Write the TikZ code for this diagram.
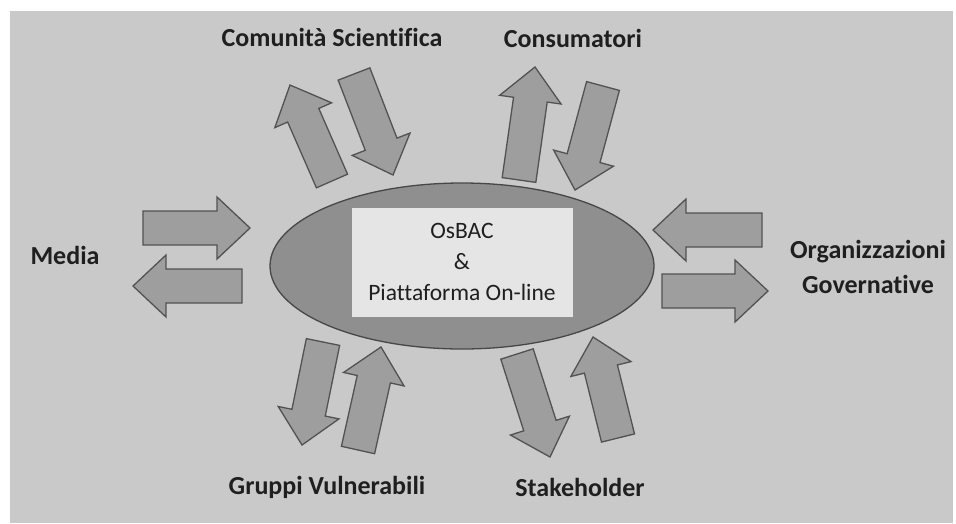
\documentclass[tikz,border=0pt]{standalone}
\usepackage{fontspec}
\setmainfont{Carlito}[Ligatures=NoCommon]
\usetikzlibrary{calc,shapes.geometric}

\newcommand\blockarrow[2]{%
  \path ($(#2)!33pt!(#1)$) coordinate (hb);
  \draw[arrowbox] ($(#1)!17pt!90:(#2)$) -- ($(hb)!17pt!90:(#2)$) -- ($(hb)!31pt!90:(#2)$) -- (#2)
    -- ($(hb)!31pt!-90:(#2)$) -- ($(hb)!17pt!-90:(#2)$) -- ($(#1)!17pt!-90:(#2)$) -- cycle;}

\begin{document}
\begin{tikzpicture}[x=1pt,y=-1pt,
    partner/.style={font=\fontsize{26}{35}\selectfont\bfseries,align=center,text=black!88},
    arrowbox/.style={fill=black!38,draw=black!68,line width=1.3pt,line join=miter},
    hub/.style={ellipse,fill=black!44,draw=black!72,line width=1.3pt,minimum width=384pt,minimum height=166pt},
    core/.style={fill=black!10,minimum width=221pt,minimum height=109pt,align=center,
      font=\fontsize{23.5}{31}\selectfont,text=black!88}]
        \useasboundingbox (0,0) rectangle (956,523);
        \fill[black!21] (10,11) rectangle (953,523);

        \node (CS) at (332,37) [partner] {Comunità Scientifica};
        \node (CO) at (573,38) [partner] {Consumatori};
        \node (ME) at (65,255) [partner] {Media};
        \node (OG) at (868,267) [partner] {Organizzazioni\\Governative};
        \node (GV) at (327,487) [partner] {Gruppi Vulnerabili};
        \node (ST) at (580,487) [partner] {Stakeholder};

        \node (H) at (462,266) [hub] {};
        \node (C) at (462,262) [core] {OsBAC\\\&\\Piattaforma On-line};

        \coordinate (CS-out0) at (332,181);
        \coordinate (CS-out1) at (290,85);
        \coordinate (CS-in0) at (354,74);
        \coordinate (CS-in1) at (393,175);
        \coordinate (CO-out0) at (519,180);
        \coordinate (CO-out1) at (535,67);
        \coordinate (CO-in0) at (603,86);
        \coordinate (CO-in1) at (575,190);
        \coordinate (ME-in0) at (143,228);
        \coordinate (ME-in1) at (250,228);
        \coordinate (ME-out0) at (242,286);
        \coordinate (ME-out1) at (133,286);
        \coordinate (OG-in0) at (762,230);
        \coordinate (OG-in1) at (653,230);
        \coordinate (OG-out0) at (662,291);
        \coordinate (OG-out1) at (768,291);
        \coordinate (GV-out0) at (323,342);
        \coordinate (GV-out1) at (302,445);
        \coordinate (GV-in0) at (358,450);
        \coordinate (GV-in1) at (381,347);
        \coordinate (ST-out0) at (517,354);
        \coordinate (ST-out1) at (550,457);
        \coordinate (ST-in0) at (618,438);
        \coordinate (ST-in1) at (593,337);

        \blockarrow{CS-out0}{CS-out1}
        \blockarrow{CS-in0}{CS-in1}
        \blockarrow{CO-out0}{CO-out1}
        \blockarrow{CO-in0}{CO-in1}
        \blockarrow{ME-in0}{ME-in1}
        \blockarrow{ME-out0}{ME-out1}
        \blockarrow{OG-in0}{OG-in1}
        \blockarrow{OG-out0}{OG-out1}
        \blockarrow{GV-out0}{GV-out1}
        \blockarrow{GV-in0}{GV-in1}
        \blockarrow{ST-out0}{ST-out1}
        \blockarrow{ST-in0}{ST-in1}
    \end{tikzpicture}
\end{document}
